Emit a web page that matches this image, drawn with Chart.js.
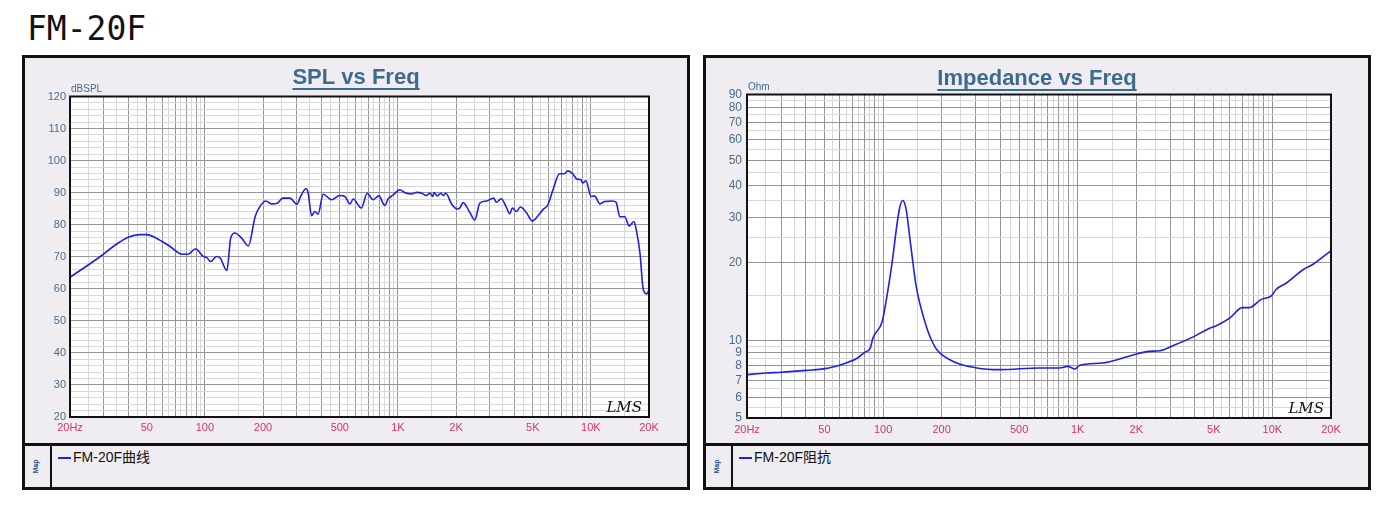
<!DOCTYPE html>
<html>
<head>
<meta charset="utf-8">
<title>FM-20F</title>
<script src="https://cdn.jsdelivr.net/npm/chart.js@4.4.1/dist/chart.umd.min.js"></script>
<style>
  body { margin: 0; width: 1400px; height: 518px; background: #fff; position: relative; overflow: hidden;
         font-family: "Liberation Sans", Arial, sans-serif; }
  #heading { position: absolute; left: 27px; top: 9px; font: 33px "DejaVu Sans Mono", monospace; line-height: 40px; color: #111; }
  .panel { position: absolute; top: 55px; width: 662px; height: 429px; border: 3px solid #111; background: #efedf1; }
  .plot { position: absolute; left: 0; top: 0; width: 662px; height: 385px; }
  .legend { position: absolute; left: 0; top: 385px; width: 662px; height: 41px; border-top: 3px solid #111; }
  .map { position: absolute; left: 0; top: 0; width: 25px; height: 41px; border-right: 2px solid #111; }
  .map span { position: absolute; left: 3px; top: 17px; font: bold 7px "Liberation Sans", Arial, sans-serif; color: #2b4f8f;
              transform: rotate(-90deg); }
  .entry { position: absolute; left: 33px; top: 2px; font: 14px "Liberation Sans", "Noto Sans CJK SC", sans-serif; color: #111;
           line-height: 18px; white-space: nowrap; }
  .entry i { display: inline-block; width: 13px; height: 2px; background: #1f1fe6; vertical-align: middle; margin-right: 2px; }
</style>
</head>
<body>
<div id="heading">FM-20F</div>

<div class="panel" style="left:22px">
  <div class="plot"><canvas id="splChart"></canvas></div>
  <div class="legend"><div class="map"><span>Map</span></div><div class="entry" id="splLegend"></div></div>
</div>

<div class="panel" style="left:703px">
  <div class="plot"><canvas id="impChart"></canvas></div>
  <div class="legend"><div class="map"><span>Map</span></div><div class="entry" id="impLegend"></div></div>
</div>

<script>
// SPL curve (Hz, dB)
const splFreq = [20, 28.6, 33.5, 40, 46, 50, 56, 66, 76, 82, 89, 92, 98, 102, 107, 115, 120, 130, 136, 143,
  155, 168, 182, 193, 207, 221, 237, 253, 276, 300, 313, 334, 343, 357, 371, 386, 410, 453, 500, 531,
  565, 587, 647, 693, 744, 797, 855, 890, 946, 1024, 1088, 1180, 1252, 1330, 1400, 1467, 1515, 1538, 1600, 1666,
  1720, 1770, 1900, 2031, 2094, 2178, 2360, 2503, 2654, 2873, 3135, 3237, 3434, 3643, 3797, 3919, 4109, 4308, 4628, 4970,
  5320, 5640, 5980, 6400, 6870, 7290, 7600, 8050, 8470, 8890, 9060, 9430, 10020, 10420, 11150, 11740, 12960, 13500, 14120, 14980,
  15780, 16700, 17240, 17950, 18690, 19480, 20000];
const splDb = [63.6, 70.0, 73.2, 76.1, 76.9, 76.9, 75.8, 73.2, 70.8, 70.8, 72.4, 72.0, 70.1, 69.8, 68.5, 70.1, 69.6, 65.7, 75.8, 77.4,
  75.8, 73.4, 82.5, 85.7, 87.4, 86.5, 86.7, 88.3, 88.3, 86.4, 88.8, 91.2, 89.8, 82.8, 84.1, 83.3, 89.5, 87.8, 89.1, 88.8,
  86.5, 88.0, 85.2, 89.8, 87.8, 89.0, 86.0, 88.0, 89.3, 90.9, 90.0, 89.6, 90.1, 89.8, 89.1, 89.8, 88.8, 90.0, 89.0, 89.8,
  89.1, 89.8, 86.4, 84.9, 85.2, 86.9, 83.8, 81.5, 86.7, 87.4, 88.3, 87.0, 88.1, 85.5, 83.4, 85.2, 84.1, 85.5, 83.8, 81.2,
  82.8, 84.7, 86.2, 91.4, 95.9, 95.9, 96.8, 95.9, 94.2, 94.0, 93.0, 93.7, 88.8, 89.0, 86.5, 87.2, 87.4, 87.0, 82.5, 82.5,
  79.6, 81.0, 77.9, 71.2, 59.7, 58.4, 59.7];

// impedance curve (Hz, Ohm)
const impFreq = [20, 25, 30, 40.5, 50.4, 58.6, 64.6, 74, 80.4, 86, 88.6, 99, 104.6, 110.5, 121, 126, 131, 139, 148, 167,
  177, 190, 229, 303, 398, 637, 805, 888, 971, 1017, 1340, 1773, 2000, 2330, 2640, 3080, 3900, 4700, 5150, 6030,
  7000, 7600, 8720, 9880, 10480, 11810, 14350, 16270, 20000];
const impOhm = [7.36, 7.47, 7.52, 7.65, 7.77, 7.98, 8.17, 8.55, 8.99, 9.34, 10.2, 11.85, 14.8, 19.3, 32.0, 34.9, 32.6, 23.1, 16.2, 11.3,
  10.06, 9.15, 8.29, 7.82, 7.70, 7.82, 7.82, 7.93, 7.75, 8.0, 8.17, 8.62, 8.86, 9.07, 9.12, 9.54, 10.3, 11.1, 11.4, 12.2,
  13.4, 13.4, 14.4, 14.9, 15.8, 16.7, 18.8, 19.8, 22.3];

const freqLabelValues = [20, 50, 100, 200, 500, 1000, 2000, 5000, 10000, 20000];
const freqLabels = ['20Hz', '50', '100', '200', '500', '1K', '2K', '5K', '10K', '20K'];
const ohmLabelValues = [5, 6, 7, 8, 9, 10, 20, 30, 40, 50, 60, 70, 80, 90];

const splName = 'FM-20F曲线';
const impName = 'FM-20F阻抗';

const lineBlue = '#1f1fe6';
const majorGrid = '#959595';
const minorGrid = '#d8d8d8';
const font = '"Liberation Sans", Arial, sans-serif';

// grid lines every half step of each decade, darker on whole steps
function logGrid(lo, hi) {
  const out = [];
  for (let d = 1; d <= hi; d *= 10) {
    for (let m = 1; m < 10; m += 0.5) {
      const v = m * d;
      if (v >= lo && v <= hi) out.push({ value: v, major: m % 1 === 0 });
    }
  }
  return out;
}
function linGrid(lo, hi, step, majorEvery) {
  const out = [];
  for (let v = lo; v <= hi; v += step) out.push({ value: v, major: v % majorEvery === 0 });
  return out;
}
const gridColor = c => (c.tick && c.tick.major ? majorGrid : minorGrid);

const decor = {
  id: 'decor',
  beforeDraw(chart) {
    const { ctx, chartArea: a } = chart;
    ctx.save();
    ctx.fillStyle = '#fff';
    ctx.fillRect(a.left, a.top, a.right - a.left, a.bottom - a.top);
    ctx.restore();
  },
  afterDraw(chart, args, o) {
    const { ctx, chartArea: a, width } = chart;
    ctx.save();
    ctx.strokeStyle = '#111';
    ctx.lineWidth = 2;
    ctx.strokeRect(a.left, a.top, a.right - a.left, a.bottom - a.top);

    ctx.font = 'bold 22px ' + font;
    ctx.fillStyle = '#3d6b8e';
    ctx.textAlign = 'center';
    ctx.textBaseline = 'alphabetic';
    ctx.fillText(o.title, width / 2, o.titleY);
    const w = ctx.measureText(o.title).width;
    ctx.fillRect(width / 2 - w / 2, o.titleY + 4, w, 2);

    ctx.font = '10px ' + font;
    ctx.textAlign = 'left';
    ctx.textBaseline = 'middle';
    ctx.fillText(o.unit, a.left + 1, a.top - 7);

    ctx.font = 'italic 15px "DejaVu Serif", serif';
    ctx.fillStyle = '#111';
    ctx.textAlign = 'right';
    ctx.textBaseline = 'alphabetic';
    ctx.fillText('LMS', a.right - 7, a.bottom - 5);
    ctx.restore();
  }
};

function freqAxis(xHeight, pad) {
  const grid = logGrid(20, 20000);
  return {
    type: 'logarithmic', min: 20, max: 20000,
    afterBuildTicks: axis => { axis.ticks = grid.map(g => ({ value: g.value, major: g.major })); },
    afterFit: s => { s.height = xHeight; },
    grid: { color: gridColor, lineWidth: 1, drawTicks: false },
    border: { display: false },
    ticks: {
      autoSkip: false, maxRotation: 0, padding: pad, color: '#d8326a', font: { family: font, size: 11 },
      callback: v => { const i = freqLabelValues.indexOf(v); return i < 0 ? '' : freqLabels[i]; }
    }
  };
}

function makeChart(id, cfg) {
  return new Chart(document.getElementById(id), {
    type: 'line',
    data: {
      datasets: [{
        label: cfg.name,
        data: cfg.xs.map((x, i) => ({ x: x, y: cfg.ys[i] })),
        borderColor: lineBlue, borderWidth: 1.6, pointRadius: 0,
        cubicInterpolationMode: 'monotone', fill: false
      }]
    },
    options: {
      responsive: true, maintainAspectRatio: false, animation: false, events: [],
      layout: { padding: { top: cfg.top, right: cfg.right, left: 0, bottom: 0 } },
      scales: { x: freqAxis(cfg.xHeight, cfg.xPad), y: cfg.yAxis },
      plugins: {
        legend: { display: false }, tooltip: { enabled: false },
        decor: { title: cfg.title, titleY: cfg.titleY, unit: cfg.unit }
      }
    },
    plugins: [decor]
  });
}

const splGrid = linGrid(20, 120, 2, 10);
makeChart('splChart', {
  name: splName, xs: splFreq, ys: splDb,
  top: 38.5, right: 38, xHeight: 26, xPad: 4,
  title: 'SPL vs Freq', titleY: 26, unit: 'dBSPL',
  yAxis: {
    type: 'linear', min: 20, max: 120,
    afterBuildTicks: axis => { axis.ticks = splGrid.map(g => ({ value: g.value, major: g.major })); },
    afterFit: s => { s.width = 45; },
    grid: { color: gridColor, lineWidth: 1, drawTicks: false },
    border: { display: false },
    ticks: { autoSkip: false, padding: 4, color: '#4a6c8c', font: { family: font, size: 11 },
      callback: v => (v % 10 === 0 ? String(v) : '') }
  }
});

const ohmGrid = logGrid(5, 90);
makeChart('impChart', {
  name: impName, xs: impFreq, ys: impOhm,
  top: 36.5, right: 37, xHeight: 25, xPad: 5,
  title: 'Impedance vs Freq', titleY: 27, unit: 'Ohm',
  yAxis: {
    type: 'logarithmic', min: 5, max: 90,
    afterBuildTicks: axis => { axis.ticks = ohmGrid.map(g => ({ value: g.value, major: g.major })); },
    afterFit: s => { s.width = 41; },
    grid: { color: gridColor, lineWidth: 1, drawTicks: false },
    border: { display: false },
    ticks: { autoSkip: false, padding: 5, color: '#4a6c8c', font: { family: font, size: 12 },
      callback: v => (ohmLabelValues.indexOf(v) < 0 ? '' : String(v)) }
  }
});

document.getElementById('splLegend').innerHTML = '<i></i>' + splName;
document.getElementById('impLegend').innerHTML = '<i></i>' + impName;
</script>
</body>
</html>
